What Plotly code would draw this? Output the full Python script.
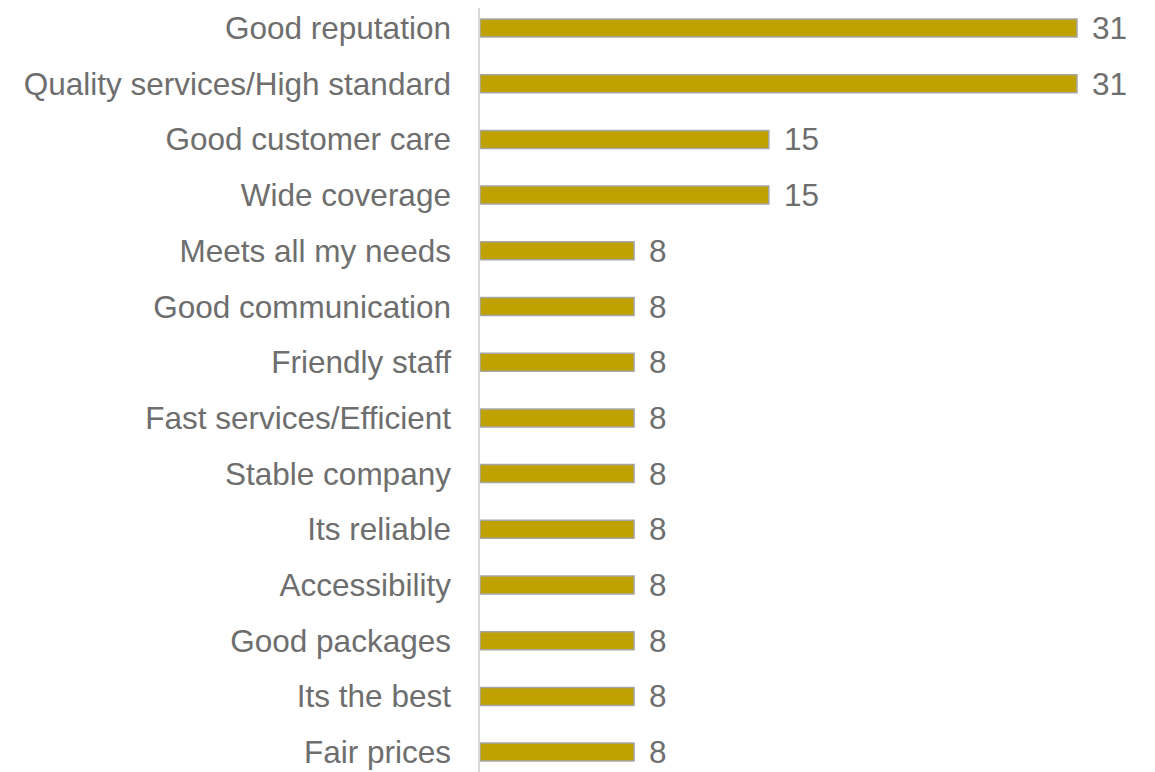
import plotly.graph_objects as go

categories = [
    "Good reputation",
    "Quality services/High standard",
    "Good customer care",
    "Wide coverage",
    "Meets all my needs",
    "Good communication",
    "Friendly staff",
    "Fast services/Efficient",
    "Stable company",
    "Its reliable",
    "Accessibility",
    "Good packages",
    "Its the best",
    "Fair prices",
]
values = [31, 31, 15, 15, 8, 8, 8, 8, 8, 8, 8, 8, 8, 8]

BAR_COLOR = "#BFA100"
TEXT_COLOR = "#6E6E6E"
FONT = "Liberation Sans, Arial, sans-serif"
FSIZE = 31.5

fig = go.Figure()
fig.add_trace(go.Bar(
    x=values,
    y=categories,
    orientation="h",
    marker=dict(color=BAR_COLOR, line=dict(color="#A6A6A6", width=1.5)),
    hoverinfo="skip",
))

for c, v in zip(categories, values):
    fig.add_annotation(
        x=v, y=c, text=str(v), showarrow=False,
        xanchor="left", yanchor="middle", xshift=13,
        font=dict(family=FONT, size=FSIZE, color=TEXT_COLOR),
    )

fig.update_layout(
    width=1147, height=764,
    margin=dict(l=472, r=0, t=0, b=0),
    paper_bgcolor="white", plot_bgcolor="white",
    bargap=0.677,
    showlegend=False,
    font=dict(family=FONT, size=FSIZE, color=TEXT_COLOR),
)
fig.update_xaxes(range=[0, 35.05], visible=False)
fig.update_yaxes(
    categoryorder="array", categoryarray=categories,
    range=[13.357, -0.359],
    showline=True, linecolor="#D9D9D9", linewidth=1.5,
    showgrid=False, zeroline=False,
    ticks="", ticklabelstandoff=21,
    tickfont=dict(family=FONT, size=FSIZE, color=TEXT_COLOR),
)

fig.write_html("out.html")
